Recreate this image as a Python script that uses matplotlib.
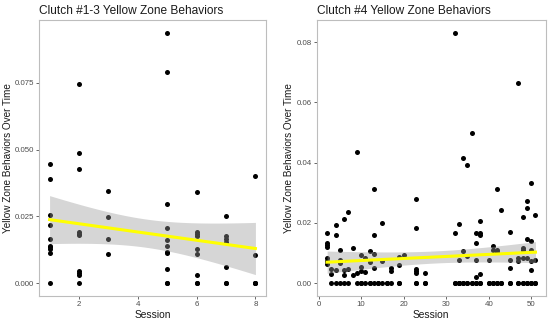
import numpy as np
import matplotlib.pyplot as plt
from math import sqrt

plt.rcParams['font.family'] = ['Liberation Sans', 'DejaVu Sans']

# Clutch #1-3 : non-zero values per session, plus how many zero rows (overlapping dots at 0)
left_data = {
    1: [0.0445, 0.0392, 0.0257, 0.0218, 0.0166, 0.0141, 0.0136, 0.0129, 0.0112],
    2: [0.0747, 0.0486, 0.0426, 0.0193, 0.0186, 0.0179, 0.0045, 0.0038, 0.0031],
    3: [0.0345, 0.0247, 0.0166, 0.0111],
    5: [0.0939, 0.0791, 0.0298, 0.0206, 0.0162, 0.0141, 0.0118, 0.0114, 0.0052],
    6: [0.0341, 0.0191, 0.0184, 0.0175, 0.0129, 0.0110, 0.0030],
    7: [0.0250, 0.0175, 0.0165, 0.0155, 0.0062],
    8: [0.0400, 0.0104],
}
left_zeros = {1: 1, 2: 1, 5: 2, 6: 2, 7: 2, 8: 3}

# Clutch #4
right_data = {
    2: [0.0166, 0.0133, 0.0126, 0.0120, 0.0083, 0.0075, 0.0065],
    3: [0.0047, 0.0032],
    4: [0.0193, 0.0160, 0.0045],
    5: [0.0111, 0.0078, 0.0066],
    6: [0.0213, 0.0044, 0.0026],
    7: [0.0237, 0.0046],
    8: [0.0116, 0.0028],
    9: [0.0434, 0.0033],
    10: [0.0092, 0.0055, 0.0040],
    11: [0.0083, 0.0037],
    12: [0.0107, 0.0070],
    13: [0.0312, 0.0160, 0.0096, 0.0050],
    15: [0.0201, 0.0074],
    17: [0.0050, 0.0042],
    19: [0.0086, 0.0061],
    20: [0.0092],
    23: [0.0278, 0.0182, 0.0046, 0.0040, 0.0033],
    25: [0.0035],
    32: [0.0832, 0.0166],
    33: [0.0196, 0.0077],
    34: [0.0415, 0.0107],
    35: [0.0391, 0.0089],
    36: [0.0498],
    37: [0.0166, 0.0135, 0.0077, 0.0021],
    38: [0.0207, 0.0166, 0.0160, 0.0030],
    40: [0.0077],
    41: [0.0123, 0.0111],
    42: [0.0312, 0.0110, 0.0105],
    43: [0.0244],
    45: [0.0169, 0.0077, 0.0052],
    47: [0.0665, 0.0083, 0.0074],
    48: [0.0221, 0.0118, 0.0111, 0.0084],
    49: [0.0274, 0.0249, 0.0145, 0.0085],
    50: [0.0332, 0.0140, 0.0111, 0.0072, 0.0044],
    51: [0.0227, 0.0077],
}
right_zeros = {3: 1, 4: 1, 5: 1, 6: 1, 7: 1, 9: 1, 10: 2, 11: 1, 12: 2, 13: 1,
               14: 2, 15: 1, 16: 2, 17: 1, 19: 2, 23: 2, 25: 2,
               32: 2, 33: 3, 34: 2, 35: 2, 36: 2, 37: 2, 38: 2,
               40: 2, 41: 2, 42: 2, 43: 2, 45: 2, 47: 2, 48: 2, 49: 2, 50: 2, 51: 2}


def flatten(data, zeros):
    xs, ys = [], []
    for s, vals in data.items():
        xs += [s] * len(vals)
        ys += vals
    for s, k in zeros.items():
        xs += [s] * k
        ys += [0.0] * k
    return np.array(xs, float), np.array(ys, float)


def lm_band(x, y, n_pts=80):
    # linear fit with 95% confidence band, like geom_smooth(method = "lm")
    n = len(x)
    b, a = np.polyfit(x, y, 1)
    resid = y - (a + b * x)
    s = sqrt((resid ** 2).sum() / (n - 2))
    xs = np.linspace(x.min(), x.max(), n_pts)
    sxx = ((x - x.mean()) ** 2).sum()
    se = s * np.sqrt(1 / n + (xs - x.mean()) ** 2 / sxx)
    t = 1.975 if n > 100 else 2.005
    fit = a + b * xs
    return xs, fit, fit - t * se, fit + t * se


def draw_panel(ax, x, y, title, yticks, ytick_labels, xticks):
    ax.scatter(x, y, s=13, color='black', linewidths=0, zorder=2)
    xs, fit, lo, hi = lm_band(x, y)
    ax.fill_between(xs, lo, hi, color='#999999', alpha=0.4, linewidth=0, zorder=3)
    ax.plot(xs, fit, color='#FFFF00', linewidth=2.2, zorder=4)
    ax.set_title(title, loc='left', fontsize=8.6, color='#1a1a1a', pad=4)
    ax.set_xlabel('Session', fontsize=7.4, color='#1a1a1a', labelpad=1.5)
    ax.set_ylabel('Yellow Zone Behaviors Over Time', fontsize=7.2, color='#1a1a1a', labelpad=1.5)
    ax.set_yticks(yticks)
    ax.set_yticklabels(ytick_labels)
    ax.set_xticks(xticks)
    ax.tick_params(labelsize=5.7, colors='#4d4d4d', length=2.5, width=0.6, pad=1.2)
    for sp in ax.spines.values():
        sp.set_color('#bdbdbd')
        sp.set_linewidth(0.8)
    ax.margins(x=0.05, y=0.05)


fig = plt.figure(figsize=(5.5, 3.21), dpi=100)
ax1 = fig.add_axes([39.3 / 550, 1 - 295.7 / 321, 226.4 / 550, 275.7 / 321])
ax2 = fig.add_axes([316.7 / 550, 1 - 295.7 / 321, 229.2 / 550, 275.7 / 321])

lx, ly = flatten(left_data, left_zeros)
rx, ry = flatten(right_data, right_zeros)

draw_panel(ax1, lx, ly, 'Clutch #1-3 Yellow Zone Behaviors',
           [0, 0.025, 0.05, 0.075], ['0.000', '0.025', '0.050', '0.075'], [2, 4, 6, 8])
draw_panel(ax2, rx, ry, 'Clutch #4 Yellow Zone Behaviors',
           [0, 0.02, 0.04, 0.06, 0.08], ['0.00', '0.02', '0.04', '0.06', '0.08'],
           [0, 10, 20, 30, 40, 50])

fig.savefig('out.png', dpi=100)
